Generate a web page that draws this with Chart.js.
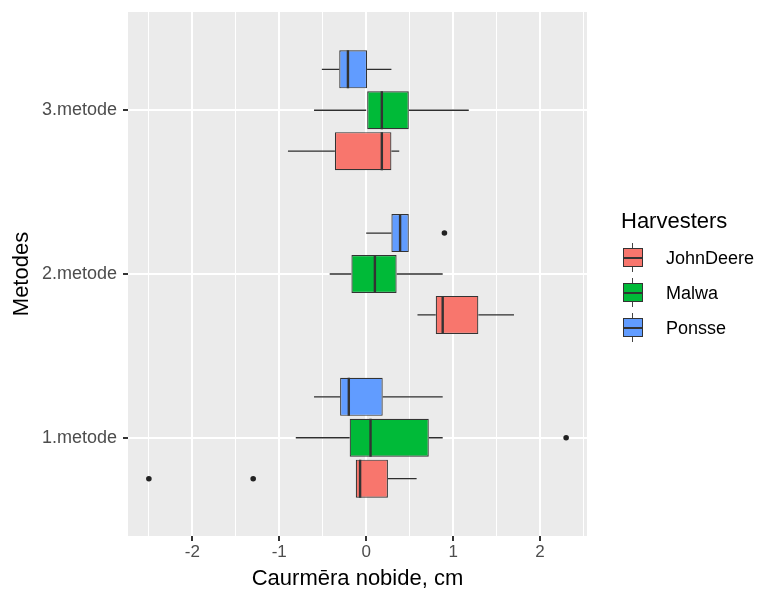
<!DOCTYPE html>
<html>
<head>
<meta charset="utf-8">
<script src="https://cdn.jsdelivr.net/npm/chart.js@4.4.1/dist/chart.umd.min.js"></script>
<style>
    body { margin: 0; background: #fff; font-family: 'Liberation Sans', Arial, sans-serif; }
    #wrap { position: relative; width: 760px; height: 592px; }
    #legend { position: absolute; left: 0; top: 0; color: #000; }
    #legend .ttl { position: absolute; left: 621px; font-size: 22px; line-height: 26px; white-space: nowrap; }
    #legend .whisk { position: absolute; width: 1px; height: 5px; background: #444; }
    #legend .box { position: absolute; left: 623px; width: 18px; height: 17px; border: 1px solid #333; }
    #legend .med { position: absolute; left: 623px; width: 20px; height: 2px; background: #333; }
    #legend .lbl { position: absolute; left: 666px; font-size: 18px; line-height: 22px; white-space: nowrap; }
</style>
</head>
<body>
<div id="wrap">
    <canvas id="myChart" width="760" height="592"></canvas>
    <div id="legend"></div>
</div>
<script>
var metodes = ['1.metode', '2.metode', '3.metode'];
var harvesters = ['JohnDeere', 'Malwa', 'Ponsse'];
var colors = ['#F8766D', '#00BA38', '#619CFF'];

// low whisker, Q1, median, Q3, high whisker - for 1., 2., 3. metode
var johnDeere = [
    [-0.12, -0.12, -0.07, 0.25, 0.58],
    [0.59, 0.80, 0.88, 1.29, 1.70],
    [-0.90, -0.36, 0.18, 0.29, 0.38]
];
var malwa = [
    [-0.81, -0.19, 0.05, 0.72, 0.88],
    [-0.42, -0.17, 0.10, 0.35, 0.88],
    [-0.60, 0.00, 0.18, 0.49, 1.18]
];
var ponsse = [
    [-0.60, -0.30, -0.20, 0.19, 0.88],
    [0.00, 0.29, 0.39, 0.49, 0.49],
    [-0.51, -0.31, -0.21, 0.01, 0.29]
];

// outliers: [metode index, value]
var outJohnDeere = [[0, -2.5], [0, -1.3]];
var outMalwa = [[0, 2.3]];
var outPonsse = [[1, 0.9]];

var stats = [johnDeere, malwa, ponsse];
var outliers = [outJohnDeere, outMalwa, outPonsse];

// dodge inside one metode, JohnDeere lowest
var dodge = [-0.25, 0, 0.25];
var boxHalf = 0.116;

Chart.defaults.font.family = "'Liberation Sans', Arial, sans-serif";

function buildDatasets() {
    var ds = [];
    for (var h = 0; h < harvesters.length; h++) {
        var boxes = [], whiskers = [], medians = [], dots = [];
        for (var m = 0; m < metodes.length; m++) {
            var s = stats[h][m];
            var pos = m + 1 + dodge[h];
            boxes.push({ y: pos, x: [s[1], s[3]] });
            whiskers.push({ x: s[0], y: pos }, { x: s[1], y: pos }, { x: null, y: null },
                          { x: s[3], y: pos }, { x: s[4], y: pos }, { x: null, y: null });
            medians.push({ x: s[2], y: pos - boxHalf }, { x: s[2], y: pos + boxHalf }, { x: null, y: null });
        }
        for (var k = 0; k < outliers[h].length; k++) {
            var o = outliers[h][k];
            dots.push({ x: o[1], y: o[0] + 1 + dodge[h] });
        }

        ds.push({
            type: 'bar',
            label: harvesters[h],
            indexAxis: 'y',
            grouped: false,
            data: boxes,
            backgroundColor: colors[h],
            borderColor: '#333333',
            borderWidth: 1.2,
            borderSkipped: false,
            barPercentage: 0.93,
            categoryPercentage: 1,
            order: 3
        });
        ds.push({
            type: 'line',
            data: whiskers,
            borderColor: '#2E2E2E',
            borderWidth: 1.3,
            pointRadius: 0,
            order: 2
        });
        ds.push({
            type: 'line',
            data: medians,
            borderColor: '#333333',
            borderWidth: 2.4,
            pointRadius: 0,
            order: 1
        });
        ds.push({
            type: 'scatter',
            data: dots,
            pointRadius: 2.8,
            pointBackgroundColor: '#222222',
            pointBorderWidth: 0,
            order: 0
        });
    }
    return ds;
}

// grey panel behind the grid
var panelBg = {
    id: 'panelBg',
    beforeDraw: function(chart) {
        var a = chart.chartArea;
        var ctx = chart.ctx;
        ctx.save();
        ctx.fillStyle = '#EBEBEB';
        ctx.fillRect(a.left, a.top, a.right - a.left, a.bottom - a.top);
        ctx.restore();
    }
};

function isMajor(v) {
    return Math.abs(v - Math.round(v)) < 1e-6;
}

function graph() {
    const ctx = document.getElementById('myChart').getContext('2d');
    const myChart = new Chart(ctx, {
        type: 'bar',
        data: { datasets: buildDatasets() },
        plugins: [panelBg],
        options: {
            responsive: false,
            animation: false,
            events: [],
            layout: { padding: { top: 12, right: 173, left: 0, bottom: 0 } },
            plugins: {
                legend: { display: false },
                tooltip: { enabled: false }
            },
            scales: {
                x: {
                    type: 'linear',
                    min: -2.74,
                    max: 2.54,
                    offset: false,
                    border: { display: false },
                    grid: {
                        color: '#FFFFFF',
                        lineWidth: function(c) { return isMajor(c.tick.value) ? 2 : 1; },
                        tickColor: function(c) { return isMajor(c.tick.value) ? '#333333' : 'rgba(0,0,0,0)'; },
                        tickLength: 5,
                        offset: false
                    },
                    ticks: {
                        stepSize: 0.5,
                        includeBounds: false,
                        autoSkip: false,
                        maxRotation: 0,
                        color: '#4D4D4D',
                        font: { size: 17 },
                        padding: 1,
                        callback: function(v) { return isMajor(v) ? String(Math.round(v)) : ''; }
                    },
                    title: {
                        display: true,
                        text: 'Caurmēra nobide, cm',
                        color: '#000000',
                        font: { size: 22 },
                        padding: { top: 0, bottom: 0 }
                    },
                    afterFit: function(scale) {
                        scale.height = 56;
                        scale.paddingLeft = 0;
                        scale.paddingRight = 0;
                    }
                },
                y: {
                    type: 'linear',
                    min: 0.4,
                    max: 3.6,
                    offset: false,
                    border: { display: false },
                    grid: {
                        color: '#FFFFFF',
                        lineWidth: 2,
                        tickColor: '#333333',
                        tickLength: 5,
                        offset: false
                    },
                    ticks: {
                        stepSize: 1,
                        includeBounds: false,
                        autoSkip: false,
                        color: '#4D4D4D',
                        font: { size: 18 },
                        padding: 6,
                        callback: function(v) { return metodes[Math.round(v) - 1]; }
                    },
                    title: {
                        display: true,
                        text: 'Metodes',
                        color: '#000000',
                        font: { size: 22 },
                        padding: { top: 9, bottom: 0 }
                    },
                    afterFit: function(scale) {
                        scale.width = 128;
                        scale.paddingTop = 0;
                        scale.paddingBottom = 0;
                    }
                }
            }
        }
    });
}

function legend() {
    var html = '<div class="ttl" style="top:208px">Harvesters</div>';
    for (var h = 0; h < harvesters.length; h++) {
        var c = 257.5 + 35 * h;
        var top = Math.round(c - 9.5);
        html += '<div class="whisk" style="left:632px;top:' + (top - 5) + 'px"></div>' +
            '<div class="whisk" style="left:632px;top:' + (top + 19) + 'px"></div>' +
            '<div class="box" style="top:' + top + 'px;background:' + colors[h] + '"></div>' +
            '<div class="med" style="top:' + (top + 9) + 'px"></div>' +
            '<div class="lbl" style="top:' + (Math.round(c) - 11) + 'px">' + harvesters[h] + '</div>';
    }
    document.getElementById('legend').innerHTML = html;
}

graph();
legend();
</script>
</body>
</html>
